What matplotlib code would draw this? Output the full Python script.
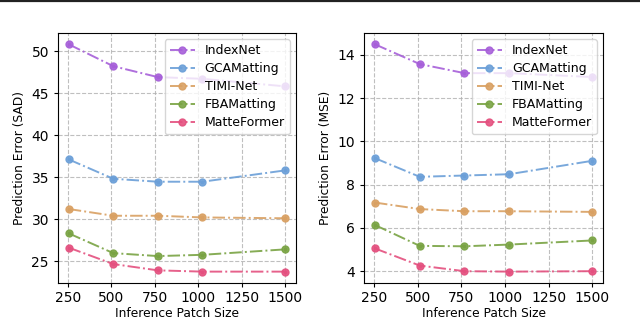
import matplotlib
matplotlib.use("Agg")
import matplotlib.pyplot as plt
from matplotlib.lines import Line2D
from matplotlib.colors import to_rgba

patch_sizes = [256, 512, 768, 1024, 1500]
methods = ["IndexNet", "GCAMatting", "TIMI-Net", "FBAMatting", "MatteFormer"]
colors = ["#a65fd9", "#6b9fd8", "#d9a062", "#79a343", "#e4507f"]

sad_indexnet = [50.8, 48.2, 46.9, 46.7, 45.8]
sad_gca = [37.1, 34.8, 34.45, 34.45, 35.8]
sad_timi = [31.2, 30.4, 30.4, 30.2, 30.1]
sad_fba = [28.3, 25.95, 25.6, 25.75, 26.4]
sad_matte = [26.6, 24.65, 23.9, 23.75, 23.75]

mse_indexnet = [14.48, 13.57, 13.15, 13.15, 12.97]
mse_gca = [9.22, 8.36, 8.42, 8.48, 9.10]
mse_timi = [7.17, 6.87, 6.77, 6.77, 6.74]
mse_fba = [6.13, 5.17, 5.15, 5.23, 5.42]
mse_matte = [5.05, 4.26, 4.0, 3.98, 4.0]

sad = [sad_indexnet, sad_gca, sad_timi, sad_fba, sad_matte]
mse = [mse_indexnet, mse_gca, mse_timi, mse_fba, mse_matte]

fig = plt.figure(figsize=(6.4, 3.19), dpi=100)
ax1 = fig.add_axes([0.0906, 0.1129, 0.3719, 0.7837])
ax2 = fig.add_axes([0.569, 0.1129, 0.3735, 0.7837])

for ax, data, ylabel in [(ax1, sad, "Prediction Error (SAD)"), (ax2, mse, "Prediction Error (MSE)")]:
    for name, vals, c in zip(methods, data, colors):
        ax.plot(patch_sizes, vals, linestyle="-.", color=c, lw=1.4, alpha=0.9,
                marker="o", markersize=5, markerfacecolor=to_rgba(c, 0.3),
                markeredgecolor=c, markeredgewidth=1.0, label=name)
        ax.plot(patch_sizes, vals, linestyle="none", marker="o", markersize=1.8,
                color=c, alpha=0.9)
    ax.set_xticks([250, 500, 750, 1000, 1250, 1500])
    ax.grid(True, linestyle="--", color="#b0b0b0", lw=0.8, alpha=0.8)
    ax.tick_params(axis="x", pad=2.5, length=3)
    ax.tick_params(axis="y", length=3)
    ax.set_xlabel("Inference Patch Size", fontsize=8.8, labelpad=1.5)
    ax.set_ylabel(ylabel, fontsize=8.8, labelpad=4)
    ax.legend(loc="upper right", fontsize=9, handlelength=2.0, labelspacing=0.4)

ax1.set_yticks([25, 30, 35, 40, 45, 50])
ax2.set_yticks([4, 6, 8, 10, 12, 14])

fig.add_artist(Line2D([0, 1], [1 - 1.0 / 319, 1 - 1.0 / 319], color="#222222", lw=1.6,
                      transform=fig.transFigure))

fig.savefig("out.png", dpi=100)
